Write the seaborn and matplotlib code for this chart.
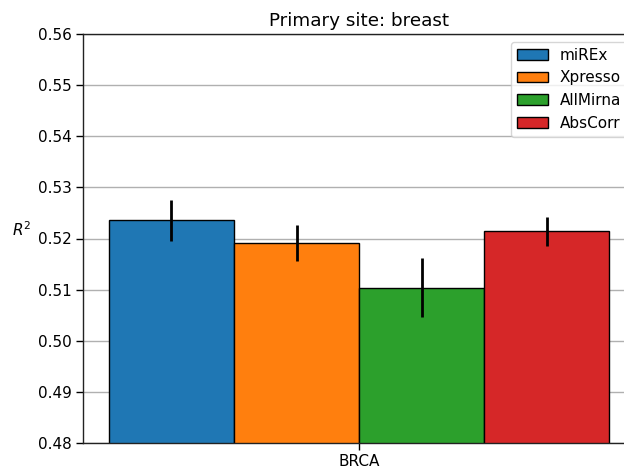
import matplotlib
matplotlib.use("Agg")
import matplotlib.pyplot as plt
import seaborn as sns
import pandas as pd
from matplotlib.patches import Patch

# R^2 per method for the breast primary site (mean and error half-width)
sites = ["BRCA"]
methods = ["miREx", "Xpresso", "AllMirna", "AbsCorr"]
r2_mean = [0.5236, 0.5191, 0.5104, 0.5214]
r2_err = [0.0040, 0.0035, 0.0057, 0.0029]
colors = ["#1f77b4", "#ff7f0e", "#2ca02c", "#d62728"]
y_ticks = [0.48, 0.49, 0.50, 0.51, 0.52, 0.53, 0.54, 0.55, 0.56]

df = pd.DataFrame({
    "site": sites * len(methods),
    "method": methods,
    "r2": r2_mean,
})

plt.rcParams["font.family"] = ["DejaVu Sans"]
plt.rcParams["font.size"] = 11
fig = plt.figure(figsize=(6.24, 4.72), dpi=100)
ax = fig.add_axes([83 / 624, 29 / 472, 552 / 624, 409 / 472])

sns.barplot(data=df, x="site", y="r2", hue="method", hue_order=methods,
            palette=colors, edgecolor="black", linewidth=1.0,
            errorbar=None, saturation=1, width=0.8, ax=ax)

# error bars at the centre of each drawn bar
bars = sorted(ax.patches, key=lambda p: p.get_x())
bars = [b for b in bars if b.get_height() > 0][:len(methods)]
xc = [b.get_x() + b.get_width() / 2 for b in bars]
ax.errorbar(xc, r2_mean, yerr=r2_err, fmt="none", ecolor="black",
            elinewidth=2, capsize=0, zorder=5)

ax.set_xlim(-0.4416, 0.4416)
ax.set_ylim(0.48, 0.56)
ax.set_yticks(y_ticks)
ax.set_yticklabels([f"{v:.2f}" for v in y_ticks])
ax.tick_params(axis="both", length=5, width=1, pad=3, labelsize=11)
ax.yaxis.grid(True, color="#b0b0b0", linewidth=1.0)
ax.xaxis.grid(False)
ax.set_axisbelow(True)
ax.set_xlabel("")
ax.set_ylabel("$R^2$", rotation=0, labelpad=12, fontsize=11)
ax.set_title("Primary site: breast", fontsize=13.2)
for s in ax.spines.values():
    s.set_color("#222222")
    s.set_linewidth(1.0)

handles = [Patch(facecolor=c, edgecolor="black", linewidth=1.0) for c in colors]
ax.legend(handles, methods, loc="upper right", fontsize=11)

fig.savefig("out.png", dpi=100)
